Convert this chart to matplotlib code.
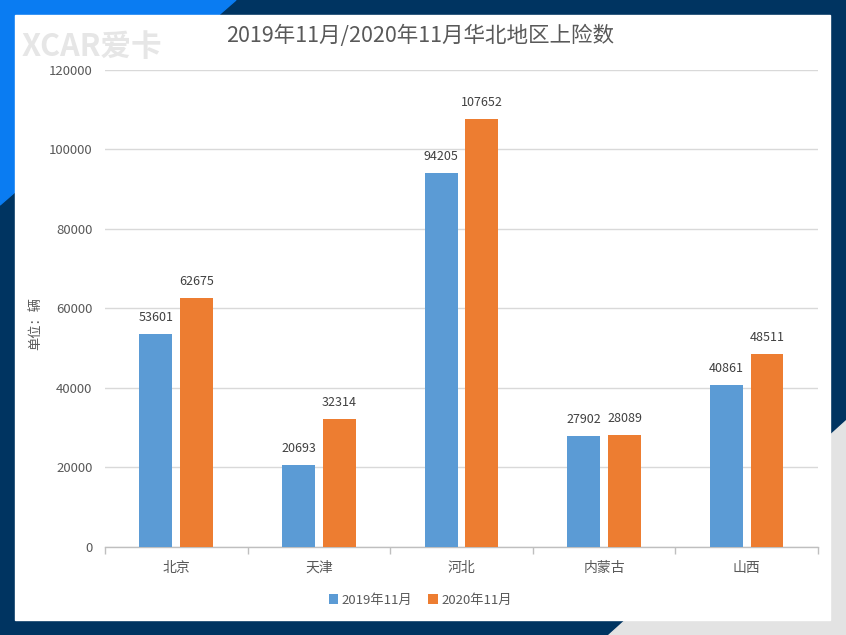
import numpy as np
import matplotlib.pyplot as plt
from matplotlib.patches import Polygon, Rectangle

plt.rcParams['font.family'] = ['Noto Sans CJK SC', 'DejaVu Sans']

categories = ['北京', '天津', '河北', '内蒙古', '山西']
nov_2019 = [53601, 20693, 94205, 27902, 40861]
nov_2020 = [62675, 32314, 107652, 28089, 48511]
series_names = ['2019年11月', '2020年11月']
yticks = [0, 20000, 40000, 60000, 80000, 100000, 120000]

BLUE = '#5b9bd5'
ORANGE = '#ed7d31'
NAVY = '#003461'
BRIGHT = '#0a7cf2'
GRAY_TXT = '#595959'

fig = plt.figure(figsize=(8.46, 6.35), dpi=100)

# background decoration
bg = fig.add_axes([0, 0, 1, 1])
bg.set_xlim(0, 846)
bg.set_ylim(635, 0)
bg.axis('off')
bg.add_patch(Rectangle((0, 0), 846, 635, color=NAVY))
bg.add_patch(Polygon([(0, 0), (236, 0), (0, 205)], color=BRIGHT))
bg.add_patch(Polygon([(846, 420), (846, 635), (608, 635)], color='#e3e3e3'))
bg.add_patch(Rectangle((15, 15), 815, 605, color='white'))
bg.text(22, 47, 'XCAR爱卡', fontsize=22, color='#e6e6e6', fontweight='bold',
        style='italic', va='center', ha='left')

ax = fig.add_axes([0.124, 0.1386, 0.843, 0.7512])
x = np.arange(len(categories))
w = 0.23
gap = 0.055
b1 = ax.bar(x - (w + gap) / 2, nov_2019, w, color=BLUE, label=series_names[0], zorder=3)
b2 = ax.bar(x + (w + gap) / 2, nov_2020, w, color=ORANGE, label=series_names[1], zorder=3)

for bars in (b1, b2):
    for r in bars:
        ax.text(r.get_x() + r.get_width() / 2, r.get_height() + 2500, str(int(r.get_height())),
                ha='center', va='bottom', fontsize=9, color='#404040')

ax.set_xlim(-0.5, len(categories) - 0.5)
ax.set_ylim(0, 120000)
ax.set_yticks(yticks)
ax.set_yticklabels([str(v) for v in yticks])
ax.grid(axis='y', color='#d9d9d9', linewidth=1, zorder=0)
ax.set_xticks(x)
ax.set_xticklabels(categories)
ax.tick_params(axis='y', length=0, labelsize=9.5, labelcolor=GRAY_TXT, pad=9)
ax.tick_params(axis='x', length=0, labelsize=10, labelcolor=GRAY_TXT, pad=10)
# category boundary ticks
ax.set_xticks(np.arange(-0.5, len(categories)), minor=True)
ax.tick_params(axis='x', which='minor', length=5, color='#bfbfbf', width=1)
for s in ('top', 'right', 'left'):
    ax.spines[s].set_visible(False)
ax.spines['bottom'].set_color('#bfbfbf')
ax.spines['bottom'].set_linewidth(1)

fig.text(0.497, 0.943, '2019年11月/2020年11月华北地区上险数', ha='center', va='center',
         fontsize=15.5, color=GRAY_TXT)
fig.text(0.042, 0.49, '单位：辆', rotation=90, ha='center', va='center',
         fontsize=9.5, color=GRAY_TXT)

fig.legend(handles=[b1, b2], loc='center', bbox_to_anchor=(0.497, 0.055), ncol=2,
           frameon=False, fontsize=9.5, handlelength=0.7, handleheight=0.7,
           handletextpad=0.3, columnspacing=1.2, labelcolor=GRAY_TXT)

fig.savefig('out.png', dpi=100)
